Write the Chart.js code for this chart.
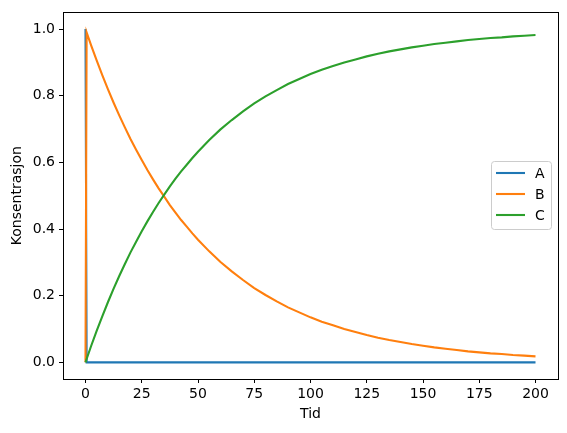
<!DOCTYPE html>
<html><head><meta charset="utf-8">
<script src="https://cdn.jsdelivr.net/npm/chart.js@4/dist/chart.umd.min.js"></script>
<style>html,body{margin:0;padding:0;background:#fff}#wrap{width:567px;height:433px}</style>
</head><body><div id="wrap"><canvas id="c" width="567" height="433"></canvas></div>
<script>
const time = [0, 0.5, 2.5, 5, 7.5, 10, 12.5, 15, 17.5, 20, 22.5, 25, 27.5, 30, 32.5, 35, 37.5, 40, 42.5, 45, 47.5, 50,
  55, 60, 65, 70, 75, 80, 85, 90, 95, 100,
  105, 110, 115, 120, 125, 130, 135, 140, 145, 150, 155, 160, 165, 170, 175, 180, 185, 190, 195, 200];
const seriesA = [1, 0, 0, 0, 0, 0, 0, 0, 0, 0, 0, 0, 0, 0, 0, 0, 0, 0, 0, 0, 0, 0,
  0, 0, 0, 0, 0, 0, 0, 0, 0, 0,
  0, 0, 0, 0, 0, 0, 0, 0, 0, 0, 0, 0, 0, 0, 0, 0, 0, 0, 0, 0];
const seriesB = [0, 0.99, 0.951, 0.905, 0.861, 0.819, 0.779, 0.741, 0.705, 0.670, 0.638, 0.607, 0.577, 0.549, 0.522, 0.497, 0.472, 0.449, 0.427, 0.407, 0.387, 0.368,
  0.333, 0.301, 0.273, 0.247, 0.223, 0.202, 0.183, 0.165, 0.150, 0.135,
  0.122, 0.111, 0.100, 0.091, 0.082, 0.074, 0.067, 0.061, 0.055, 0.050, 0.045, 0.041, 0.037, 0.033, 0.030, 0.027, 0.025, 0.022, 0.020, 0.018];
const seriesC = [0, 0.01, 0.049, 0.095, 0.139, 0.181, 0.221, 0.259, 0.295, 0.330, 0.362, 0.393, 0.423, 0.451, 0.478, 0.503, 0.528, 0.551, 0.573, 0.593, 0.613, 0.632,
  0.667, 0.699, 0.727, 0.753, 0.777, 0.798, 0.817, 0.835, 0.850, 0.865,
  0.878, 0.889, 0.900, 0.909, 0.918, 0.926, 0.933, 0.939, 0.945, 0.950, 0.955, 0.959, 0.963, 0.967, 0.970, 0.973, 0.975, 0.978, 0.980, 0.982];
const seriesNames = ['A', 'B', 'C'];
const xTicks = [0, 25, 50, 75, 100, 125, 150, 175, 200];
const yTicks = [0.0, 0.2, 0.4, 0.6, 0.8, 1.0];
const xLabel = 'Tid';
const yLabel = 'Konsentrasjon';

const colors = ['#1f77b4', '#ff7f0e', '#2ca02c'];
const FONT = 'DejaVu Sans';
const pts = s => time.map((t, i) => ({x: t, y: s[i]}));
const allSeries = [seriesA, seriesB, seriesC];

const legendPlugin = {
  id: 'mplLegend',
  afterDatasetsDraw(chart) {
    const ctx = chart.ctx;
    const x0 = 491, y0 = 161, w = 60, h = 68;
    ctx.save();
    ctx.fillStyle = 'rgba(255,255,255,0.8)';
    ctx.strokeStyle = '#cccccc';
    ctx.lineWidth = 1;
    const r = 3;
    ctx.beginPath();
    ctx.moveTo(x0 + r + 0.5, y0 + 0.5);
    ctx.arcTo(x0 + w + 0.5, y0 + 0.5, x0 + w + 0.5, y0 + h + 0.5, r);
    ctx.arcTo(x0 + w + 0.5, y0 + h + 0.5, x0 + 0.5, y0 + h + 0.5, r);
    ctx.arcTo(x0 + 0.5, y0 + h + 0.5, x0 + 0.5, y0 + 0.5, r);
    ctx.arcTo(x0 + 0.5, y0 + 0.5, x0 + w + 0.5, y0 + 0.5, r);
    ctx.closePath();
    ctx.fill();
    ctx.stroke();
    ctx.font = '14px "' + FONT + '"';
    ctx.textBaseline = 'middle';
    ctx.textAlign = 'left';
    chart.data.datasets.forEach((ds, i) => {
      const yy = y0 + 12 + i * 21;
      ctx.strokeStyle = ds.borderColor;
      ctx.lineWidth = 2.1;
      ctx.beginPath();
      ctx.moveTo(496, yy);
      ctx.lineTo(525, yy);
      ctx.stroke();
      ctx.fillStyle = '#000';
      ctx.fillText(ds.label, 535, yy + 1);
    });
    ctx.restore();
  }
};

new Chart(document.getElementById('c'), {
  type: 'line',
  data: {
    datasets: allSeries.map((s, i) => ({
      label: seriesNames[i],
      data: pts(s),
      borderColor: colors[i],
      backgroundColor: colors[i],
      borderWidth: 2.1,
      pointRadius: 0,
      tension: 0,
      fill: false,
      order: 2 - i
    }))
  },
  options: {
    responsive: false,
    animation: false,
    devicePixelRatio: 1,
    layout: {padding: {left: 0, right: 9, top: 11, bottom: 0}},
    plugins: {legend: {display: false}, tooltip: {enabled: false}},
    scales: {
      x: {
        type: 'linear', min: -10, max: 210,
        afterBuildTicks: a => { a.ticks = xTicks.map(v => ({value: v})); },
        afterFit: a => { a.height = 54; },
        grid: {drawOnChartArea: false, drawTicks: true, tickLength: 4, color: '#000', tickWidth: 1},
        border: {display: true, color: '#000', width: 1},
        ticks: {color: '#000', font: {family: FONT, size: 14}, padding: 3, maxRotation: 0,
          callback: v => String(v)},
        title: {display: true, text: xLabel, color: '#000', font: {family: FONT, size: 14}, padding: {top: 0, bottom: 10}}
      },
      y: {
        type: 'linear', min: -0.05, max: 1.05,
        afterBuildTicks: a => { a.ticks = yTicks.map(v => ({value: v})); },
        afterFit: a => { a.width = 63; },
        grid: {drawOnChartArea: false, drawTicks: true, tickLength: 4, color: '#000', tickWidth: 1},
        border: {display: true, color: '#000', width: 1},
        ticks: {color: '#000', font: {family: FONT, size: 14}, padding: 4,
          callback: v => Number(v).toFixed(1)},
        title: {display: true, text: yLabel, color: '#000', font: {family: FONT, size: 14}, padding: {top: 9, bottom: 0}}
      }
    }
  },
  plugins: [legendPlugin, {
    id: 'frame',
    afterDraw(chart) {
      const {left, right, top, bottom} = chart.chartArea;
      const ctx = chart.ctx;
      ctx.save();
      ctx.strokeStyle = '#000';
      ctx.lineWidth = 1;
      ctx.strokeRect(Math.round(left) + 0.5, Math.round(top) + 0.5, Math.round(right - left), Math.round(bottom - top));
      ctx.restore();
    }
  }]
});
</script></body></html>
